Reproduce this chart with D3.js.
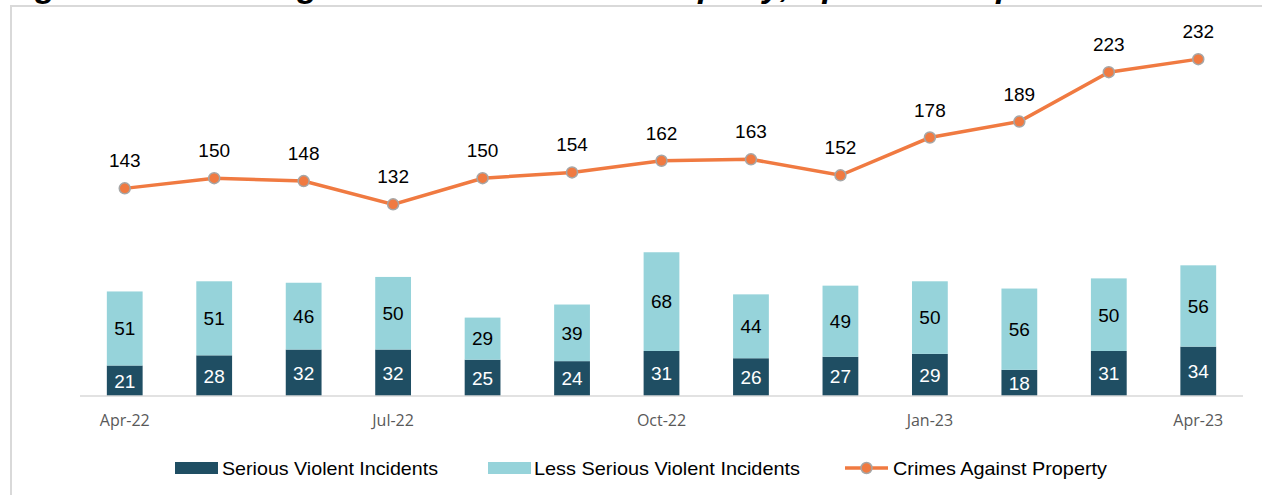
<!DOCTYPE html>
<html><head><meta charset="utf-8">
<script src="https://cdn.jsdelivr.net/npm/d3@7"></script>
<style>body{margin:0;background:#fff}svg{display:block}</style>
</head><body>
<svg id="c" width="1262" height="495"></svg>
<script>
const months = ["Apr-22","May-22","Jun-22","Jul-22","Aug-22","Sep-22","Oct-22","Nov-22","Dec-22","Jan-23","Feb-23","Mar-23","Apr-23"];
const tickLabels = ["Apr-22","Jul-22","Oct-22","Jan-23","Apr-23"];
const serious = [21,28,32,32,25,24,31,26,27,29,18,31,34];
const lessSerious = [51,51,46,50,29,39,68,44,49,50,56,50,56];
const property = [143,150,148,132,150,154,162,163,152,178,189,223,232];
const seriesNames = ["Serious Violent Incidents","Less Serious Violent Incidents","Crimes Against Property"];
const titleText = "Figure 12: Tracking Violent Incidents & Property, April 2022-April 2023";

const C = {dark:"#1F4E63", light:"#96D3DA", line:"#F07A41", marker:"#A6A6A6", axis:"#D9D9D9"};
const svg = d3.select("#c");

// cut-off title (only descenders visible, as in the reference)
svg.append("text").attr("x",5).attr("y",-3).attr("font-family","Liberation Sans, Arial").attr("font-weight","bold").attr("font-style","italic").attr("font-size",34).attr("fill","#000").text(titleText);
// frame
svg.append("path").attr("d","M11,495 V6 H1262").attr("fill","none").attr("stroke","#D9D9D9").attr("stroke-width",2);

const x = d3.scaleBand().domain(months).range([80,1243]).paddingInner(0.6).paddingOuter(0.3);
const y = d3.scaleLinear().domain([0,250]).range([396,33]);
const cx = d => x(d)+x.bandwidth()/2;
const F = "Liberation Sans, Arial";

// bars
const g = svg.append("g");
months.forEach((m,i)=>{
  g.append("rect").attr("x",x(m)).attr("width",x.bandwidth()).attr("y",y(serious[i])).attr("height",y(0)-y(serious[i])).attr("fill",C.dark);
  g.append("rect").attr("x",x(m)).attr("width",x.bandwidth()).attr("y",y(serious[i]+lessSerious[i])).attr("height",y(serious[i])-y(serious[i]+lessSerious[i])).attr("fill",C.light);
  g.append("text").attr("x",cx(m)).attr("y",(y(0)+y(serious[i]))/2).attr("dy","0.36em").attr("text-anchor","middle")
    .attr("font-family",F).attr("font-size",19).attr("fill","#fff").text(serious[i]);
  g.append("text").attr("x",cx(m)).attr("y",(y(serious[i])+y(serious[i]+lessSerious[i]))/2).attr("dy","0.36em").attr("text-anchor","middle")
    .attr("font-family",F).attr("font-size",19).attr("fill","#000").text(lessSerious[i]);
});

// axis
const ax = d3.axisBottom(x).tickSize(0).tickPadding(19).tickValues(tickLabels);
const axg = svg.append("g").attr("transform","translate(0,396)").call(ax);
axg.select(".domain").attr("stroke",C.axis).attr("stroke-width",1.5).attr("d","M80,0H1243");
axg.selectAll("text").attr("font-family","Open Sans, Noto Sans").attr("font-size",16).attr("fill","#595959");

// line
const line = d3.line().x((d,i)=>cx(months[i])).y(d=>y(d));
svg.append("path").datum(property).attr("d",line).attr("fill","none").attr("stroke",C.line).attr("stroke-width",3.5);
svg.selectAll(".pt").data(property).enter().append("circle").attr("cx",(d,i)=>cx(months[i])).attr("cy",d=>y(d)).attr("r",5.5)
  .attr("fill",C.line).attr("stroke",C.marker).attr("stroke-width",1.5);
svg.selectAll(".pl").data(property).enter().append("text").attr("x",(d,i)=>cx(months[i])).attr("y",d=>y(d)-21).attr("text-anchor","middle")
  .attr("font-family",F).attr("font-size",19).attr("fill","#000").text(d=>d);

// legend
const lg = svg.append("g").attr("font-family",F).attr("font-size",19).attr("fill","#000");
const ly = 468;
lg.append("rect").attr("x",175).attr("y",ly-6).attr("width",43).attr("height",12).attr("fill",C.dark);
lg.append("text").attr("x",222).attr("y",ly).attr("dy","0.35em").attr("textLength",216).attr("lengthAdjust","spacingAndGlyphs").text(seriesNames[0]);
lg.append("rect").attr("x",488).attr("y",ly-6).attr("width",43).attr("height",12).attr("fill",C.light);
lg.append("text").attr("x",534).attr("y",ly).attr("dy","0.35em").attr("textLength",266).attr("lengthAdjust","spacingAndGlyphs").text(seriesNames[1]);
lg.append("line").attr("x1",845).attr("x2",888).attr("y1",ly).attr("y2",ly).attr("stroke",C.line).attr("stroke-width",3.5);
lg.append("circle").attr("cx",866.5).attr("cy",ly).attr("r",5.5).attr("fill",C.line).attr("stroke",C.marker).attr("stroke-width",1.5);
lg.append("text").attr("x",893).attr("y",ly).attr("dy","0.35em").attr("textLength",214).attr("lengthAdjust","spacingAndGlyphs").text(seriesNames[2]);
</script>
</body></html>
